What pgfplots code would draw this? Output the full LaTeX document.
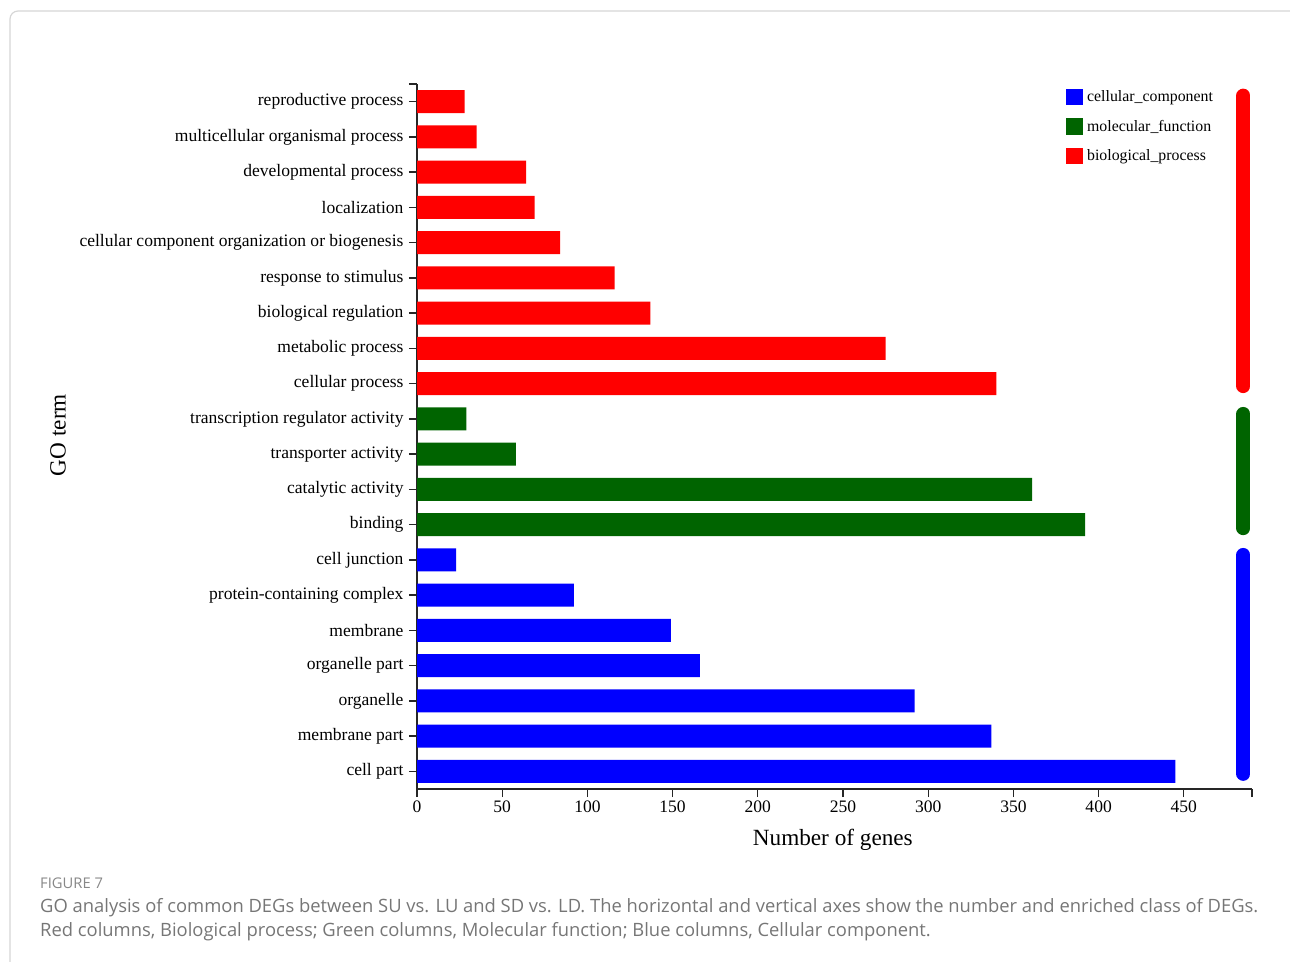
\documentclass[border=0pt]{standalone}
\usepackage{fontspec}
\setmainfont{Liberation Serif}
\newfontfamily\capfont{Open Sans}
\usepackage{pgfplots}
\pgfplotsset{compat=1.18}

\definecolor{goblue}{RGB}{0,0,255}
\definecolor{gogreen}{RGB}{0,100,0}
\definecolor{gored}{RGB}{255,0,0}
\definecolor{capgray}{RGB}{118,118,118}
\definecolor{figgray}{RGB}{135,135,135}
\definecolor{framegray}{RGB}{214,214,214}

\pgfplotsset{
  gobar/.style={
    xbar, bar width=0.65, bar shift=0pt, draw=none,
    legend image code/.code={\fill[##1] (0bp,-8.3bp) rectangle (16.5bp,8.3bp);}
  },
  groupline/.style={forget plot, line width=14bp, line cap=round}
}

\begin{document}
\begin{tikzpicture}
\useasboundingbox (0,0) rectangle (1290bp,-962bp);
\clip (0,0) rectangle (1290bp,-962bp);
% panel frame
\draw[framegray, line width=1.2bp, rounded corners=8bp] (10bp,-11bp) rectangle (1320bp,-1000bp);

\begin{axis}[
  at={(417bp,-789bp)}, anchor=south west,
  scale only axis, width=835bp, height=705bp,
  xmin=0, xmax=490, ymin=-0.5, ymax=19.5,
  axis x line*=bottom, axis y line*=left,
  axis line style={-, line width=1.3bp, black!85},
  tick style={line width=1.3bp, black!85},
  tick align=outside, major tick length=8bp,
  xtick={0,50,...,450},
  extra x ticks={490}, extra x tick labels={},
  ytick={0,...,19},
  yticklabels={cell part, membrane part, organelle, organelle part, membrane,
    protein-containing complex, cell junction, binding, catalytic activity,
    transporter activity, transcription regulator activity, cellular process,
    metabolic process, biological regulation, response to stimulus,
    cellular component organization or biogenesis, localization,
    developmental process, multicellular organismal process, reproductive process},
  extra y ticks={19.5}, extra y tick labels={},
  ticklabel style={font=\fontsize{17.6}{20}\selectfont},
  yticklabel style={xshift=-2bp},
  /pgf/number format/assume math mode=true,
  xlabel={Number of genes}, ylabel={GO term},
  label style={font=\fontsize{23.3}{26}\selectfont},
  xlabel style={at={(axis description cs:0.498,-0.0723)}, anchor=center},
  ylabel style={at={(axis description cs:-0.43,0.502)}, anchor=center},
  legend style={
    at={(axis description cs:0.7772,0.9939)}, anchor=north west,
    draw=none, fill=none, inner sep=0pt, row sep=13bp,
    font=\fontsize{15.9}{18}\selectfont,
    cells={anchor=west}, nodes={inner sep=0pt},
    /tikz/every odd column/.append style={column sep=4.5bp}
  },
]
% cellular component
\addplot[gobar, fill=goblue] coordinates {
  (445,0) (337,1) (292,2) (166,3) (149,4) (92,5) (23,6)};
% molecular function
\addplot[gobar, fill=gogreen] coordinates {
  (392,7) (361,8) (58,9) (29,10)};
% biological process
\addplot[gobar, fill=gored] coordinates {
  (340,11) (275,12) (137,13) (116,14) (84,15) (69,16) (64,17) (35,18) (28,19)};
\legend{cellular\_component, molecular\_function, biological\_process}

% category brackets on the right
\addplot[groupline, gored]   coordinates {(485,10.93) (485,19.17)};
\addplot[groupline, gogreen] coordinates {(485,6.90) (485,10.14)};
\addplot[groupline, goblue]  coordinates {(485,-0.07) (485,6.14)};
\end{axis}

% caption
\node[anchor=base west, inner sep=0pt, text=figgray, font=\capfont\fontsize{14.8}{17}\selectfont]
  at (40bp,-888bp) {FIGURE 7};
\node[anchor=base west, inner sep=0pt, text=capgray, font=\capfont\fontsize{18.45}{21}\selectfont]
  at (40bp,-912bp) {GO analysis of common DEGs between SU vs. LU and SD vs. LD. The horizontal and vertical axes show the number and enriched class of DEGs.};
\node[anchor=base west, inner sep=0pt, text=capgray, font=\capfont\fontsize{18.45}{21}\selectfont]
  at (40bp,-936bp) {Red columns, Biological process; Green columns, Molecular function; Blue columns, Cellular component.};
\end{tikzpicture}
\end{document}
